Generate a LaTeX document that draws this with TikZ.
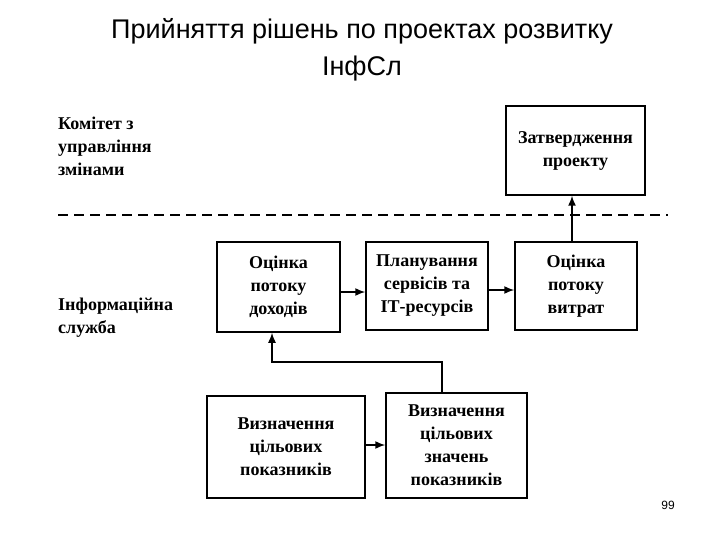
\documentclass[tikz,border=0pt]{standalone}
\usepackage{fontspec}
\setmainfont{Liberation Serif}
\newfontfamily\sansf{Liberation Sans}
\usetikzlibrary{arrows.meta}
\begin{document}
\begin{tikzpicture}[x=1pt,y=-1pt,
  box/.style={draw,line width=1.5pt,align=center,font=\bfseries\fontsize{18}{23}\selectfont,inner sep=0pt},
  lbl/.style={anchor=north west,align=left,font=\bfseries\fontsize{18}{23}\selectfont,inner sep=0pt},
  arr/.style={line width=1.5pt,-{Latex[length=10pt,width=8pt]}}]
\useasboundingbox (0,0) rectangle (720,540);
\node[font=\sansf\fontsize{27}{37}\selectfont,align=center] (title) at (362,50) {Прийняття рішень по проектах розвитку\\ІнфСл};
\node[lbl] (kom) at (58,117) {Комітет з\\управління\\змінами};
\node[lbl] (inf) at (58,298) {Інформаційна\\служба};
\draw[line width=1.5pt,dash pattern=on 10pt off 6pt] (58,215) coordinate (d1) -- (668,215) coordinate (d2);
\node[box,minimum width=139pt,minimum height=89pt] (zat) at (575.5,150.5) {Затвердження\\проекту};
\node[box,minimum width=123pt,minimum height=90pt] (od) at (278.5,287) {Оцінка\\потоку\\доходів};
\node[box,minimum width=122pt,minimum height=88pt] (pl) at (427,286) {Планування\\сервісів та\\ІТ-ресурсів};
\node[box,minimum width=122pt,minimum height=88pt] (ov) at (576,286) {Оцінка\\потоку\\витрат};
\node[box,minimum width=158pt,minimum height=102pt] (vp) at (286,447) {Визначення\\цільових\\показників};
\node[box,minimum width=141pt,minimum height=105pt] (vz) at (456.5,445.5) {Визначення\\цільових\\значень\\показників};
\node[font=\sansf\fontsize{12}{14}\selectfont] (num) at (668,505) {99};
\draw[arr] (od.east|-0,292) -- (pl.west|-0,292);
\draw[arr] (pl.east|-0,290) -- (ov.west|-0,290);
\draw[arr] (vp.east|-0,445) -- (vz.west|-0,445);
\draw[arr] (ov.north-|572,0) -- (zat.south-|572,0);
\draw[arr] (vz.north-|442,0) -- (442,362) -- (272,362) -- (od.south-|272,0);
\end{tikzpicture}
\end{document}
